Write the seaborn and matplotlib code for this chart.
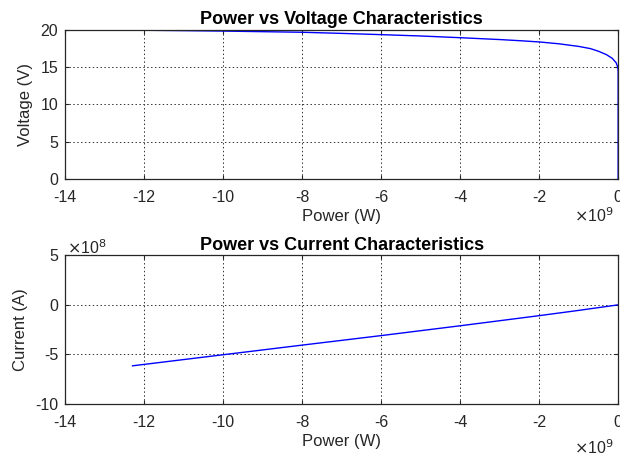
import matplotlib
matplotlib.use("Agg")
import matplotlib.pyplot as plt
import seaborn as sns
import pandas as pd

# Power (W) and terminal voltage (V) along the sweep
power_v = [-12.3e9, -12.0e9, -11.0e9, -10.0e9, -9.0e9, -8.0e9, -7.0e9, -6.0e9,
           -5.0e9, -4.0e9, -3.0e9, -2.5e9, -2.0e9, -1.5e9, -1.0e9, -0.7e9,
           -0.5e9, -0.3e9, -0.15e9, -0.05e9, -0.01e9, 0.0, 0.0]
voltage = [20.0, 19.97, 19.92, 19.86, 19.78, 19.70, 19.55, 19.38,
           19.20, 18.97, 18.72, 18.57, 18.40, 18.15, 17.80, 17.50,
           17.15, 16.70, 16.20, 15.60, 15.00, 14.50, 0.0]

# Power (W) and current (A)
power_i = [-12.3e9, -10.0e9, -8.0e9, -6.0e9, -4.0e9, -2.0e9, -1.0e9, 0.0]
current = [-6.15e8, -5.03e8, -4.06e8, -3.10e8, -2.11e8, -1.09e8, -0.56e8, 0.0]

x_ticks = [-14, -12, -10, -8, -6, -4, -2, 0]
v_ticks = [0, 5, 10, 15, 20]
i_ticks = [-10, -5, 0, 5]

sns.set_theme(style="white")
plt.rcParams["font.family"] = ["Liberation Sans", "DejaVu Sans"]
plt.rcParams["axes.unicode_minus"] = False

fig = plt.figure(figsize=(6.2, 4.55), dpi=100)
fig.patch.set_facecolor("white")
ax1 = fig.add_axes([0.105, 0.607, 0.892, 0.327])
ax2 = fig.add_axes([0.105, 0.112, 0.892, 0.327])

df_v = pd.DataFrame({"Power": power_v, "Voltage": voltage})
df_i = pd.DataFrame({"Power": power_i, "Current": current})

sns.lineplot(data=df_v, x="Power", y="Voltage", sort=False, estimator=None,
             color="#0000ff", linewidth=1.0, ax=ax1)
sns.lineplot(data=df_i, x="Power", y="Current", sort=False, estimator=None,
             color="#0000ff", linewidth=1.0, ax=ax2)

TEXT = "#262626"


def style_axes(ax, yticks, yscale, title, ylabel, exp_y):
    ax.set_facecolor("white")
    ax.set_xlim(-14e9, 0)
    ax.set_xticks([t * 1e9 for t in x_ticks])
    ax.set_xticklabels([str(t) for t in x_ticks])
    ax.set_yticks([t * yscale for t in yticks])
    ax.set_yticklabels([str(t) for t in yticks])
    ax.set_ylim(yticks[0] * yscale, yticks[-1] * yscale)
    ax.grid(True, linestyle=(0, (1.5, 2.5)), color="#333333", linewidth=0.7)
    for s in ax.spines.values():
        s.set_visible(True)
        s.set_color(TEXT)
        s.set_linewidth(0.9)
    ax.tick_params(axis="both", direction="in", length=3, width=0.8,
                   labelsize=11.5, colors=TEXT, top=True, right=True,
                   bottom=True, left=True, labeltop=False, labelright=False)
    ax.tick_params(axis="x", pad=8)
    ax.tick_params(axis="y", pad=5)
    ax.set_title(title, fontsize=13, fontweight="bold", color="black", pad=4)
    ax.set_xlabel("Power (W)", fontsize=12, color=TEXT, labelpad=3)
    ax.set_ylabel(ylabel, fontsize=12, color=TEXT, labelpad=5)
    ax.text(0.992, exp_y, r"$\times$10$^{9}$", transform=ax.transAxes,
            ha="right", va="center", fontsize=11.5, color=TEXT)


style_axes(ax1, v_ticks, 1, "Power vs Voltage Characteristics", "Voltage (V)", -0.25)
style_axes(ax2, i_ticks, 1e8, "Power vs Current Characteristics", "Current (A)", -0.29)
ax2.text(0.003, 1.05, r"$\times$10$^{8}$", transform=ax2.transAxes,
         ha="left", va="center", fontsize=11.5, color=TEXT)

fig.savefig("out.png", dpi=100, facecolor="white")
